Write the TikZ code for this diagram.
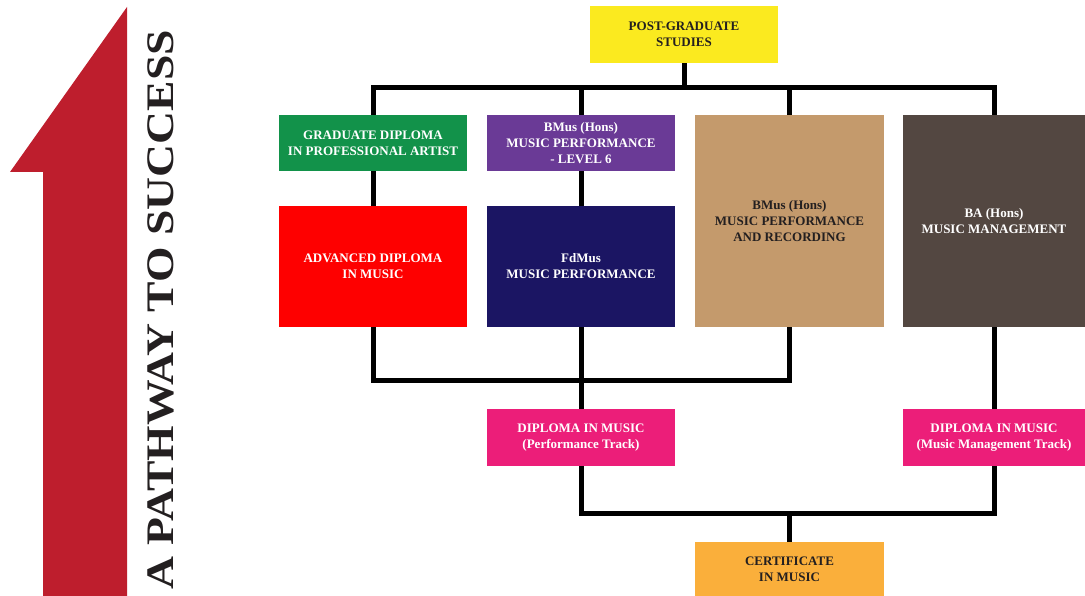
\documentclass[tikz,border=0pt]{standalone}
\usepackage{fontspec}
\usepackage{graphicx}
\setmainfont{Liberation Serif}
\usetikzlibrary{calc}
\definecolor{pgyellow}{HTML}{FBEA1F}
\definecolor{pggreen}{HTML}{12924A}
\definecolor{pgpurple}{HTML}{6A3A96}
\definecolor{pgtan}{HTML}{C49A6C}
\definecolor{pgbrown}{HTML}{534741}
\definecolor{pgred}{HTML}{FE0000}
\definecolor{pgnavy}{HTML}{1B1563}
\definecolor{pgpink}{HTML}{EC1E79}
\definecolor{pgorange}{HTML}{FAAF3B}
\definecolor{arrowred}{HTML}{BE1E2D}
\definecolor{textdark}{HTML}{231F20}

\begin{document}
\begin{tikzpicture}[x=1pt,y=-1pt,
  box/.style={minimum width=188pt,minimum height=#1,inner sep=0pt,align=center,
    font=\bfseries\fontsize{13}{16}\selectfont,text=white},
  dark/.style={text=textdark},
  link/.style={line width=5pt}]
\useasboundingbox (0,0) rectangle (1085,596);

% arrow and title
\fill[arrowred] (127,7) -- (10,172) -- (43,172) -- (43,596) -- (127,596) -- cycle;
\node[rotate=90,anchor=base,inner sep=0pt,text=textdark,font=\bfseries\fontsize{39}{39}\selectfont]
  (title) at (173,310) {\scalebox{1.17}[1]{A PATHWAY TO SUCCESS}};

% boxes
\node[box=57pt,dark,fill=pgyellow] (post) at (684,34.5) {POST-GRADUATE\\STUDIES};
\node[box=56pt,fill=pggreen] (grad) at (373,143) {GRADUATE DIPLOMA\\IN PROFESSIONAL ARTIST};
\node[box=56pt,fill=pgpurple] (bmus6) at (581,143) {BMus (Hons)\\MUSIC PERFORMANCE\\- LEVEL 6};
\node[box=212pt,dark,fill=pgtan,minimum width=189pt] (bmusrec) at (789.5,221) {BMus (Hons)\\MUSIC PERFORMANCE\\AND RECORDING};
\node[box=212pt,fill=pgbrown,minimum width=182pt] (bamm) at (994,221) {BA (Hons)\\MUSIC MANAGEMENT};
\node[box=121pt,fill=pgred] (adv) at (373,266.5) {ADVANCED DIPLOMA\\IN MUSIC};
\node[box=121pt,fill=pgnavy] (fdmus) at (581,266.5) {FdMus\\MUSIC PERFORMANCE};
\node[box=57pt,fill=pgpink] (dipperf) at (581,437.5) {DIPLOMA IN MUSIC\\(Performance Track)};
\node[box=57pt,fill=pgpink,minimum width=182pt] (dipmm) at (994,437.5) {DIPLOMA IN MUSIC\\(Music Management Track)};
\node[box=54pt,dark,fill=pgorange,minimum width=189pt] (cert) at (789.5,569) {CERTIFICATE\\IN MUSIC};

% connectors
\coordinate (topbar) at (0,88);
\coordinate (midbar) at (0,380);
\coordinate (lowbar) at (0,513);
\draw[link] (post.south) -- (post.south |- topbar);
\draw[link] (grad.north) |- (bamm.north |- topbar) -- (bamm.north);
\draw[link] (bmus6.north) -- (bmus6.north |- topbar);
\draw[link] (bmusrec.north) -- (bmusrec.north |- topbar);
\draw[link] (grad.south) -- (adv.north);
\draw[link] (bmus6.south) -- (fdmus.north);
\draw[link] (adv.south) |- (bmusrec.south |- midbar) -- (bmusrec.south);
\draw[link] (fdmus.south) -- (dipperf.north);
\draw[link] (bamm.south) -- (dipmm.north);
\draw[link] (dipperf.south) |- (dipmm.south |- lowbar) -- (dipmm.south);
\draw[link] (cert.north) -- (cert.north |- lowbar);
\end{tikzpicture}
\end{document}
